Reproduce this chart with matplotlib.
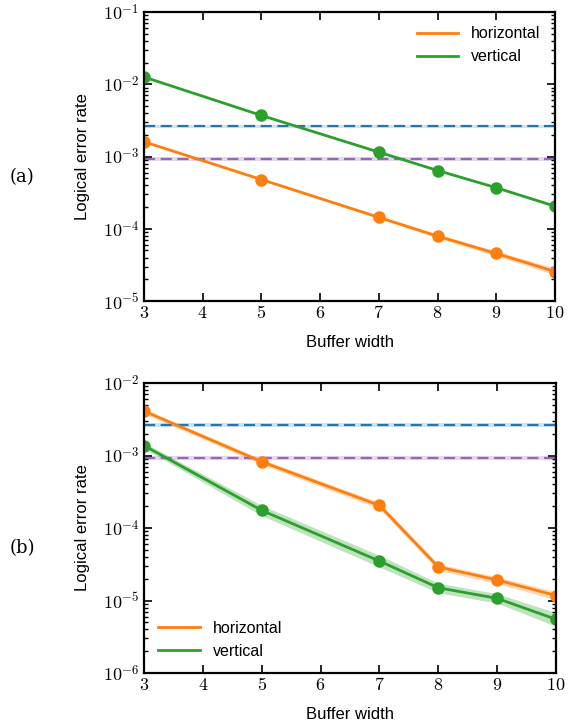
import matplotlib
matplotlib.use("Agg")
import matplotlib.pyplot as plt
import numpy as np
from matplotlib.lines import Line2D
from matplotlib.ticker import FuncFormatter, LogLocator, NullFormatter

# --- dados ---
widths = [3, 5, 7, 8, 9, 10]

# painel (a)
a_horiz = [1.6e-3, 4.8e-4, 1.44e-4, 7.9e-5, 4.55e-5, 2.56e-5]
a_horiz_lo = [1.55e-3, 4.65e-4, 1.38e-4, 7.4e-5, 4.2e-5, 2.3e-5]
a_horiz_hi = [1.65e-3, 4.95e-4, 1.50e-4, 8.4e-5, 4.9e-5, 2.85e-5]
a_vert = [1.26e-2, 3.7e-3, 1.15e-3, 6.4e-4, 3.7e-4, 2.05e-4]
a_vert_lo = [1.24e-2, 3.65e-3, 1.13e-3, 6.3e-4, 3.6e-4, 1.98e-4]
a_vert_hi = [1.28e-2, 3.75e-3, 1.17e-3, 6.5e-4, 3.8e-4, 2.12e-4]

# painel (b)
b_horiz = [4.1e-3, 8.2e-4, 2.05e-4, 2.9e-5, 1.92e-5, 1.17e-5]
b_horiz_lo = [3.8e-3, 7.5e-4, 1.85e-4, 2.6e-5, 1.72e-5, 1.02e-5]
b_horiz_hi = [4.4e-3, 8.9e-4, 2.25e-4, 3.2e-5, 2.12e-5, 1.33e-5]
b_vert = [1.37e-3, 1.75e-4, 3.5e-5, 1.5e-5, 1.07e-5, 5.5e-6]
b_vert_lo = [1.25e-3, 1.48e-4, 2.9e-5, 1.28e-5, 0.92e-5, 4.4e-6]
b_vert_hi = [1.50e-3, 2.05e-4, 4.2e-5, 1.74e-5, 1.24e-5, 6.8e-6]

# limiares (linhas tracejadas)
thr_blue = 2.64e-3
thr_purple = 9.2e-4

C_OR = '#ff7f0e'
C_GR = '#2ca02c'
C_BL = '#1f77b4'
C_PU = '#9467bd'

plt.rcParams['mathtext.fontset'] = 'cm'
plt.rcParams['font.family'] = ['Liberation Sans', 'DejaVu Sans']


def log_fmt(v, pos):
    e = int(round(np.log10(v)))
    return r'$10^{%d}$' % e


def lin_fmt(v, pos):
    return r'$%d$' % v


def panel(ax, h, h_lo, h_hi, v, v_lo, v_hi, ylim, leg_loc):
    ax.axhspan(thr_blue * 0.95, thr_blue * 1.05, color=C_BL, alpha=0.2, lw=0)
    ax.axhline(thr_blue, color=C_BL, ls='--', lw=1.6, dashes=(5, 2.5))
    ax.axhspan(thr_purple * 0.94, thr_purple * 1.06, color=C_PU, alpha=0.25, lw=0)
    ax.axhline(thr_purple, color=C_PU, ls='--', lw=1.6, dashes=(5, 2.5))

    ax.fill_between(widths, h_lo, h_hi, color=C_OR, alpha=0.3, lw=0)
    ax.fill_between(widths, v_lo, v_hi, color=C_GR, alpha=0.3, lw=0)
    ax.plot(widths, h, color=C_OR, lw=2, marker='o', ms=8)
    ax.plot(widths, v, color=C_GR, lw=2, marker='o', ms=8)

    ax.set_yscale('log')
    ax.set_xlim(3, 10)
    ax.set_ylim(*ylim)
    ax.set_xticks(range(3, 11))
    ax.xaxis.set_major_formatter(FuncFormatter(lin_fmt))
    ax.yaxis.set_major_locator(LogLocator(base=10, numticks=10))
    ax.yaxis.set_minor_locator(LogLocator(base=10, subs=np.arange(2, 10), numticks=10))
    ax.yaxis.set_major_formatter(FuncFormatter(log_fmt))
    ax.yaxis.set_minor_formatter(NullFormatter())
    ax.tick_params(which='both', direction='in', top=True, right=True, labelsize=13)
    ax.tick_params(which='major', length=6, width=1.2)
    ax.tick_params(which='minor', length=3, width=1)
    ax.tick_params(axis='x', pad=3)
    for s in ax.spines.values():
        s.set_linewidth(1.6)
    ax.set_ylabel('Logical error rate', fontsize=12, labelpad=9)
    ax.set_xlabel('Buffer width', fontsize=12, labelpad=9)

    # legenda só com as linhas, sem marcadores
    handles = [Line2D([], [], color=C_OR, lw=2),
               Line2D([], [], color=C_GR, lw=2)]
    ax.legend(handles, ['horizontal', 'vertical'], loc=leg_loc,
              frameon=False, fontsize=11.5, handlelength=2.6)


fig = plt.figure(figsize=(5.7, 7.25), dpi=100)
ax1 = fig.add_axes([144 / 570, 1 - 301 / 725, 411 / 570, 289 / 725])
ax2 = fig.add_axes([144 / 570, 1 - 673 / 725, 412 / 570, 290 / 725])

panel(ax1, a_horiz, a_horiz_lo, a_horiz_hi, a_vert, a_vert_lo, a_vert_hi,
      (1e-5, 1e-1), 'upper right')
panel(ax2, b_horiz, b_horiz_lo, b_horiz_hi, b_vert, b_vert_lo, b_vert_hi,
      (1e-6, 1e-2), 'lower left')

fig.text(22 / 570, 1 - 177 / 725, '(a)', family='DejaVu Serif', fontsize=13,
         ha='center', va='center')
fig.text(22 / 570, 1 - 548 / 725, '(b)', family='DejaVu Serif', fontsize=13,
         ha='center', va='center')

fig.savefig('out.png', dpi=100)
